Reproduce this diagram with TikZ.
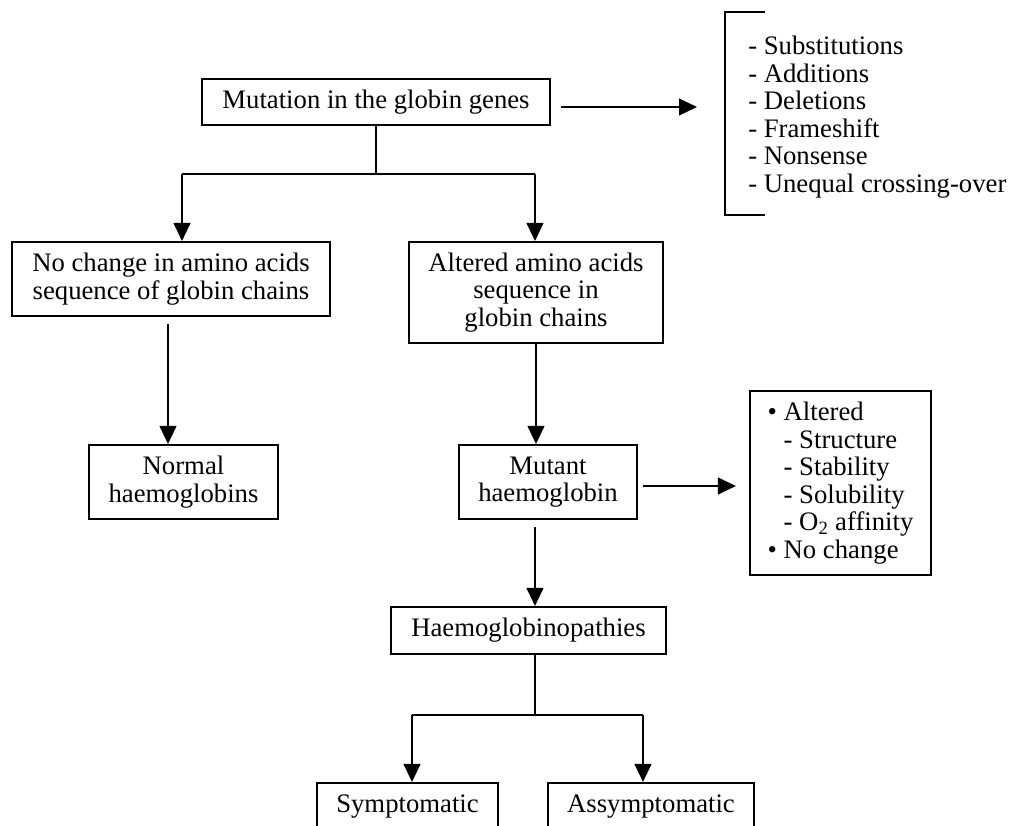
\documentclass[tikz,border=0pt]{standalone}
\usepackage{fontspec}
\setmainfont{Liberation Serif}
\usetikzlibrary{arrows.meta,positioning,calc}

\begin{document}
\begin{tikzpicture}[
    font=\fontsize{19}{19.6}\selectfont,
    box/.style={rectangle, draw, line width=1.5pt, align=center, inner sep=2pt},
    line/.style={line width=1.2pt},
    flow/.style={line width=1.2pt, -{Triangle[length=0.45cm, width=0.42cm]}},
    lst/.style={align=left, inner sep=0pt},
]
\useasboundingbox (0,0) rectangle (25.275,-20.625);
\clip (0,0) rectangle (25.275,-20.625);

% ---------- root ----------
\node[box, minimum width=8.7cm, minimum height=1.15cm] (mut) at (9.4,-2.55) {Mutation in the globin genes};

% ---------- mutation types ----------
\node[lst, anchor=west] (types) at (18.7,-2.925)
  {- Substitutions\\- Additions\\- Deletions\\- Frameshift\\- Nonsense\\- Unequal crossing-over};
\coordinate (brk) at (18.125,-0.3);
\draw[line] (19.125,-0.3) -- (brk) -- (18.125,-5.375) -- (19.125,-5.375);
\draw[flow, shorten <=0.25cm, shorten >=0.7cm] ([yshift=-0.125cm]mut.east) -- ([yshift=-0.125cm]mut.east -| brk);

% ---------- first split ----------
\node[box, minimum width=7.95cm, minimum height=1.85cm] (nochg) at (4.275,-6.975)
  {No change in amino acids\\sequence of globin chains};
\node[box, minimum width=6.35cm, minimum height=2.525cm] (alt) at (13.4,-7.3125)
  {Altered amino acids\\sequence in\\globin chains};
\coordinate (bL) at (4.55,-4.35);
\coordinate (bR) at (13.375,-4.35);
\draw[line] (mut.south) -- (mut.south |- bL);
\draw[line] (bL) -- (bR);
\draw[flow] (bL) -- (bL |- nochg.north);
\draw[flow] (bR) -- (bR |- alt.north);

% ---------- haemoglobins ----------
\node[box, minimum width=4.725cm, minimum height=1.85cm] (norm) at (4.5875,-12.05) {Normal\\haemoglobins};
\node[box, minimum width=4.45cm, minimum height=1.85cm] (mutant) at (13.7,-12.05) {Mutant\\haemoglobin};
\draw[flow, shorten <=0.175cm] ([xshift=-0.075cm]nochg.south) -- ([xshift=-0.075cm]nochg.south |- norm.north);
\draw[flow] (alt.south) -- (alt.south |- mutant.north);

% ---------- properties ----------
\node[box, lst, draw, minimum width=4.525cm, minimum height=4.6cm] (props) at (21.0125,-12.075)
  {\textbullet\ Altered\\
   \hphantom{\textbullet\ }- Structure\\
   \hphantom{\textbullet\ }- Stability\\
   \hphantom{\textbullet\ }- Solubility\\
   \hphantom{\textbullet\ }- O\textsubscript{2} affinity\\
   \textbullet\ No change};
\draw[flow, shorten <=0.125cm, shorten >=0.325cm] ([yshift=-0.1cm]mutant.east) -- ([yshift=-0.1cm]mutant.east -| props.west);

% ---------- haemoglobinopathies ----------
\node[box, minimum width=6.875cm, minimum height=1.175cm] (haemo) at (13.2125,-15.7625) {Haemoglobinopathies};
\draw[flow, shorten <=0.175cm] (mutant.south -| bR) -- (haemo.north -| bR);

\node[box, minimum width=4.525cm, minimum height=1.175cm] (sympt) at (10.1875,-20.1625) {Symptomatic};
\node[box, minimum width=5.15cm, minimum height=1.175cm] (asym) at (16.275,-20.1625) {Assymptomatic};
\coordinate (hj) at (13.375,-17.875);
\coordinate (bL2) at (10.3,-17.875);
\coordinate (bR2) at (16.075,-17.875);
\draw[line] (haemo.south -| hj) -- (hj);
\draw[line] (bL2) -- (bR2);
\draw[flow] (bL2) -- (bL2 |- sympt.north);
\draw[flow] (bR2) -- (bR2 |- asym.north);

\end{tikzpicture}
\end{document}
